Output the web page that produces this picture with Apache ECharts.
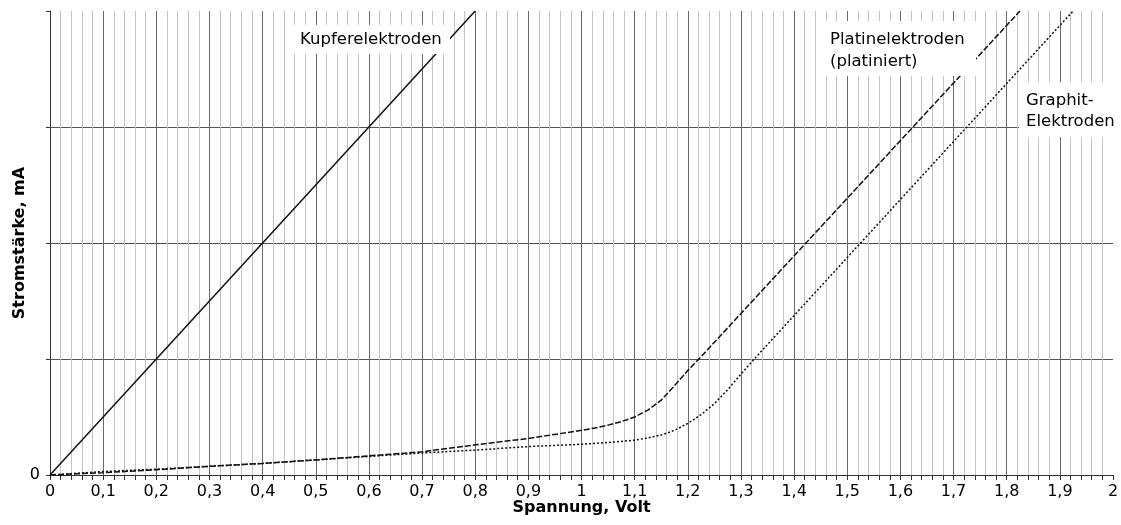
<!DOCTYPE html>
<html><head><meta charset="utf-8">
<script src="https://cdn.jsdelivr.net/npm/echarts@6/dist/echarts.min.js"></script>
<style>html,body{margin:0;padding:0;background:#fff}#c{width:1121px;height:525px}</style>
</head><body><div id="c"></div>
<script>
// Tick labels along the voltage axis (every 0.1 V)
const xTickLabels = ['0','0,1','0,2','0,3','0,4','0,5','0,6','0,7','0,8','0,9','1','1,1','1,2','1,3','1,4','1,5','1,6','1,7','1,8','1,9','2'];
// Copper electrodes (straight line)
const kupferV = [0, 0.8];
const kupferI = [0, 4];
// Platinum electrodes (platinised)
const platinV = [0, 0.05, 0.1, 0.2, 0.3, 0.4, 0.5, 0.6, 0.7, 0.8, 0.9, 1.0, 1.025, 1.05, 1.075, 1.1, 1.125, 1.15, 1.175, 1.2, 1.225, 1.825];
const platinI = [0, 0.01, 0.02, 0.045, 0.075, 0.1, 0.13, 0.165, 0.2, 0.26, 0.315, 0.385, 0.405, 0.43, 0.46, 0.5, 0.56, 0.645, 0.77, 0.9, 1.02, 4.0];
// Graphite electrodes
const graphitV = [0, 0.05, 0.1, 0.2, 0.3, 0.4, 0.5, 0.6, 0.7, 0.8, 0.9, 1.0, 1.05, 1.1, 1.125, 1.15, 1.175, 1.2, 1.225, 1.25, 1.275, 1.3, 1.325, 1.925];
const graphitI = [0, 0.015, 0.03, 0.05, 0.075, 0.1, 0.13, 0.16, 0.19, 0.215, 0.245, 0.265, 0.28, 0.3, 0.32, 0.345, 0.385, 0.445, 0.52, 0.615, 0.735, 0.87, 1.0, 4.0];

const zip = (a, b) => a.map((v, i) => [v, b[i]]);
const chart = echarts.init(document.getElementById('c'), null, {renderer: 'canvas'});
const FONT = '"DejaVu Sans", Verdana, sans-serif';
const lineColor = '#111';
const labelFont = '16.5px ' + FONT;

chart.setOption({
  animation: false,
  backgroundColor: '#fff',
  grid: {left: 50, right: 8, top: 11, bottom: 50, containLabel: false, outerBoundsMode: 'none'},
  xAxis: {
    type: 'value', min: 0, max: 2, interval: 0.1,
    name: 'Spannung, Volt', nameLocation: 'middle', nameGap: 25, nameMoveOverlap: false,
    nameTextStyle: {fontFamily: FONT, fontWeight: 'bold', fontSize: 16, color: '#000'},
    axisLine: {show: true, onZero: false, lineStyle: {color: '#333', width: 1}},
    axisTick: {show: true, length: 5, lineStyle: {color: '#333'}},
    minorTick: {show: true, splitNumber: 5, length: 5, lineStyle: {color: '#333'}},
    axisLabel: {
      margin: 9, fontFamily: FONT, fontSize: 16, color: '#000',
      formatter: v => xTickLabels[Math.round(v * 10)]
    },
    splitLine: {show: true, showMinLine: false, showMaxLine: false, lineStyle: {color: '#6a6a6a', width: 1}},
    minorSplitLine: {show: true, lineStyle: {color: '#c4c4c4', width: 1}}
  },
  yAxis: {
    type: 'value', min: 0, max: 4, interval: 1,
    name: 'Stromstärke, mA', nameLocation: 'middle', nameGap: 22, nameMoveOverlap: false,
    nameTextStyle: {fontFamily: FONT, fontWeight: 'bold', fontSize: 16, color: '#000'},
    axisLine: {show: true, lineStyle: {color: '#333', width: 1}},
    axisTick: {show: true, length: 4, lineStyle: {color: '#333'}},
    axisLabel: {margin: 10, fontFamily: FONT, fontSize: 16, color: '#000', formatter: v => v === 0 ? '0' : ''},
    splitLine: {show: true, showMinLine: false, showMaxLine: false, lineStyle: {color: '#555', width: 1}}
  },
  series: [
    {name: 'Kupferelektroden', type: 'line', data: zip(kupferV, kupferI), showSymbol: false, symbol: 'none',
     lineStyle: {color: lineColor, width: 1.5, type: 'solid'}, z: 3},
    {name: 'Platinelektroden', type: 'line', data: zip(platinV, platinI), showSymbol: false, symbol: 'none',
     lineStyle: {color: lineColor, width: 1.5, type: [6, 2]}, z: 3},
    {name: 'Graphit-Elektroden', type: 'line', data: zip(graphitV, graphitI), showSymbol: false, symbol: 'none',
     lineStyle: {color: lineColor, width: 1.5, type: [2, 2]}, z: 3}
  ],
  graphic: [
    {type: 'rect', z: 100, shape: {x: 292, y: 25, width: 158, height: 29}, style: {fill: '#fff'}},
    {type: 'text', z: 101, x: 300, y: 40, style: {text: 'Kupferelektroden', font: labelFont, fill: '#000', verticalAlign: 'middle'}},
    {type: 'rect', z: 100, shape: {x: 824, y: 21, width: 152, height: 55}, style: {fill: '#fff'}},
    {type: 'text', z: 101, x: 830, y: 40, style: {text: 'Platinelektroden', font: labelFont, fill: '#000', verticalAlign: 'middle'}},
    {type: 'text', z: 101, x: 830, y: 62, style: {text: '(platiniert)', font: labelFont, fill: '#000', verticalAlign: 'middle'}},
    {type: 'rect', z: 100, shape: {x: 1019, y: 82, width: 102, height: 55}, style: {fill: '#fff'}},
    {type: 'text', z: 101, x: 1026, y: 101, style: {text: 'Graphit-', font: labelFont, fill: '#000', verticalAlign: 'middle'}},
    {type: 'text', z: 101, x: 1026, y: 122, style: {text: 'Elektroden', font: labelFont, fill: '#000', verticalAlign: 'middle'}}
  ]
});
</script>
</body></html>
